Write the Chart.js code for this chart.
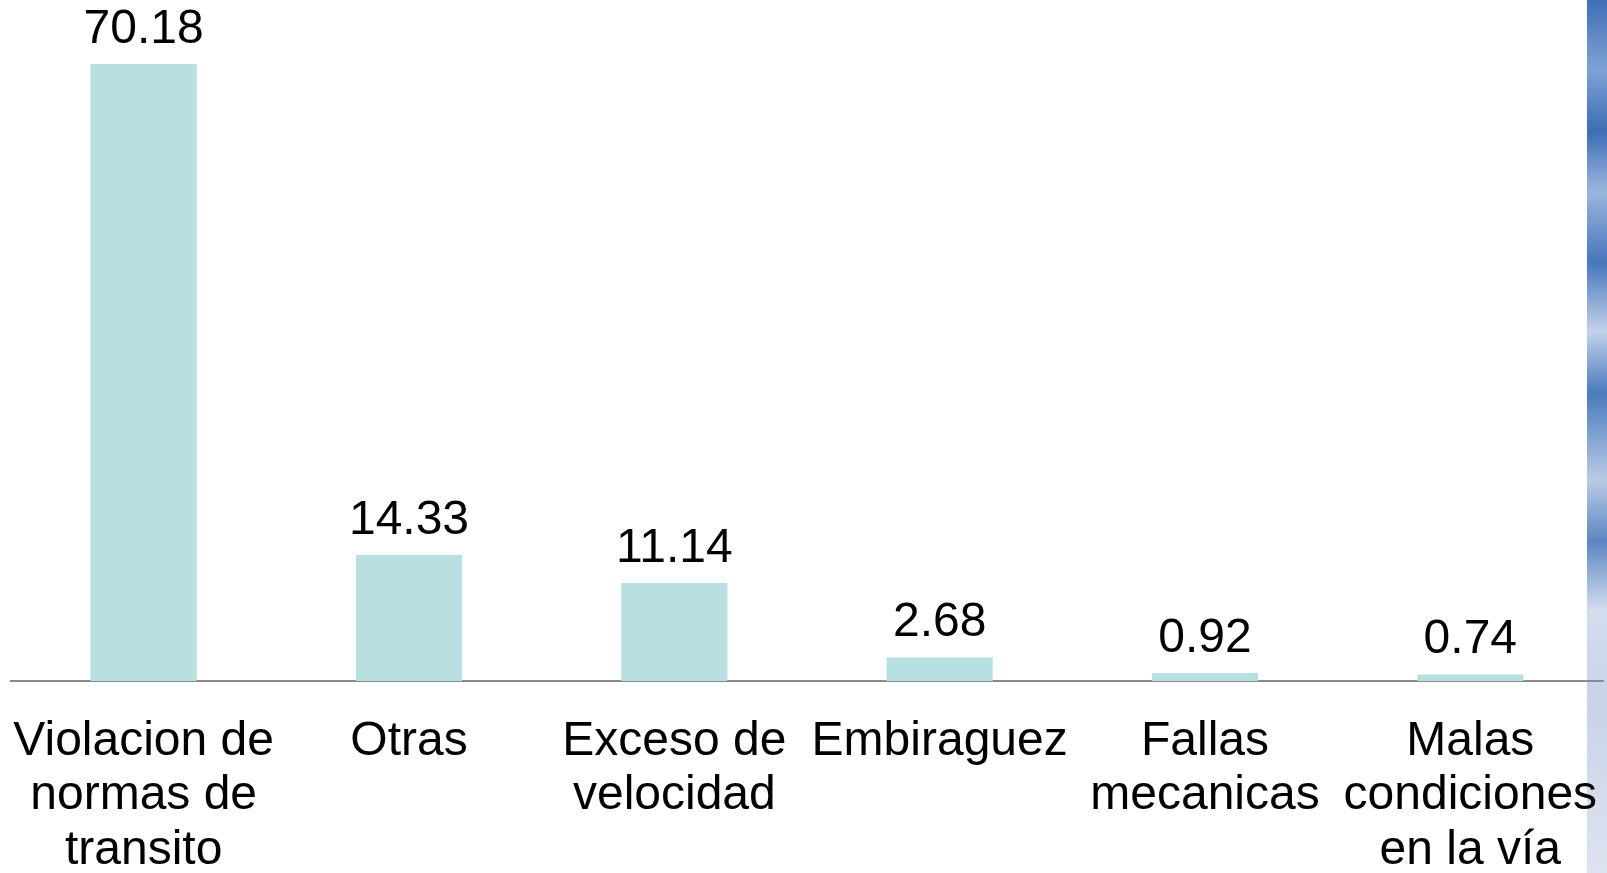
<!DOCTYPE html>
<html>
<head>
<meta charset="utf-8">
<script src="https://cdn.jsdelivr.net/npm/chart.js@4/dist/chart.umd.min.js"></script>
<style>
  html, body { margin: 0; padding: 0; background: #fff; }
  #wrap { position: relative; width: 1607px; height: 873px; overflow: hidden; }
  #strip {
    position: absolute; left: 1587px; top: 0; width: 20px; height: 873px;
    background: linear-gradient(180deg, #3f6fb6 0%, #7fa2d4 8%, #3d6db4 15%, #9ab6de 22%, #4676bb 30%, #c3d2ea 38%, #4a7abc 45%, #b9cbe6 55%, #5c86c2 62%, #d4ddee 70%, #c8d3e8 80%, #dde3f0 100%);
  }
  #chart { position: absolute; left: 0; top: 0; }
</style>
</head>
<body>
<div id="wrap">
  <div id="strip"></div>
  <canvas id="chart" width="1607" height="873"></canvas>
</div>
<script>
const categories = [
  ['Violacion de', 'normas de', 'transito'],
  ['Otras'],
  ['Exceso de', 'velocidad'],
  ['Embiraguez'],
  ['Fallas', 'mecanicas'],
  ['Malas', 'condiciones', 'en la vía']
];
const values = [70.18, 14.33, 11.14, 2.68, 0.92, 0.74];
const valueLabels = ['70.18', '14.33', '11.14', '2.68', '0.92', '0.74'];

const valueLabelPlugin = {
  id: 'valueLabels',
  afterDatasetsDraw(chart) {
    const ctx = chart.ctx;
    const meta = chart.getDatasetMeta(0);
    ctx.save();
    ctx.font = '48px "Liberation Sans", Arial, sans-serif';
    ctx.fillStyle = '#000';
    ctx.textAlign = 'center';
    ctx.textBaseline = 'alphabetic';
    meta.data.forEach((bar, i) => {
      ctx.fillText(valueLabels[i], bar.x, bar.y - 21);
    });
    ctx.restore();
  }
};

new Chart(document.getElementById('chart'), {
  type: 'bar',
  data: {
    labels: categories,
    datasets: [{
      data: values,
      backgroundColor: '#b8dfe2',
      borderWidth: 0,
      barPercentage: 0.4,
      categoryPercentage: 1
    }]
  },
  options: {
    responsive: false,
    animation: false,
    layout: { padding: { left: 11, right: 4, top: 48, bottom: 0 } },
    plugins: {
      legend: { display: false },
      tooltip: { enabled: false }
    },
    scales: {
      x: {
        grid: { display: false, drawTicks: false },
        border: { display: true, color: '#8a8a8a', width: 2 },
        ticks: {
          autoSkip: false,
          maxRotation: 0,
          minRotation: 0,
          padding: 33,
          color: '#000',
          font: { family: '"Liberation Sans", Arial, sans-serif', size: 48, lineHeight: 1.14 }
        },
        afterFit(scale) {
          scale.height = 192;
          scale.paddingLeft = 0;
          scale.paddingRight = 0;
        }
      },
      y: {
        display: false,
        min: 0,
        max: 72
      }
    }
  },
  plugins: [valueLabelPlugin]
});
</script>
</body>
</html>
